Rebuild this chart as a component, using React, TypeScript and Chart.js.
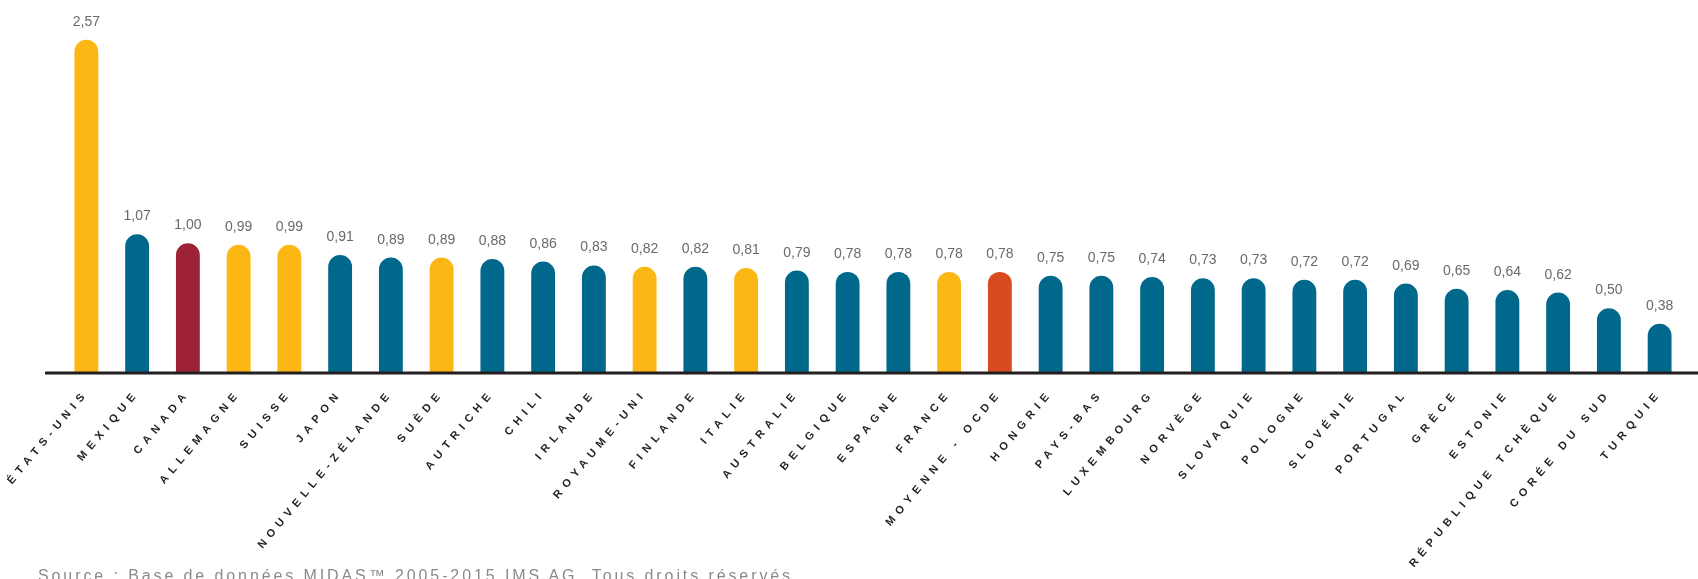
import { useEffect, useRef } from "react";
import { Chart, registerables } from "chart.js";

Chart.register(...registerables);

const countries = [
  "ÉTATS-UNIS", "MEXIQUE", "CANADA", "ALLEMAGNE", "SUISSE", "JAPON",
  "NOUVELLE-ZÉLANDE", "SUÈDE", "AUTRICHE", "CHILI", "IRLANDE", "ROYAUME-UNI",
  "FINLANDE", "ITALIE", "AUSTRALIE", "BELGIQUE", "ESPAGNE", "FRANCE",
  "MOYENNE - OCDE", "HONGRIE", "PAYS-BAS", "LUXEMBOURG", "NORVÈGE", "SLOVAQUIE",
  "POLOGNE", "SLOVÉNIE", "PORTUGAL", "GRÈCE", "ESTONIE", "RÉPUBLIQUE TCHÈQUE",
  "CORÉE DU SUD", "TURQUIE",
];

const values = [
  2.57, 1.07, 1.0, 0.99, 0.99, 0.91,
  0.89, 0.89, 0.88, 0.86, 0.83, 0.82,
  0.82, 0.81, 0.79, 0.78, 0.78, 0.78,
  0.78, 0.75, 0.75, 0.74, 0.73, 0.73,
  0.72, 0.72, 0.69, 0.65, 0.64, 0.62,
  0.5, 0.38,
];

// group of each bar: y = yellow, b = blue, r = dark red (Canada), o = OECD average
const groups = [
  "y", "b", "r", "y", "y", "b",
  "b", "y", "b", "b", "b", "y",
  "b", "y", "b", "b", "b", "y",
  "o", "b", "b", "b", "b", "b",
  "b", "b", "b", "b", "b", "b",
  "b", "b",
];

const groupColors: Record<string, string> = {
  y: "#fdb714",
  b: "#00688b",
  r: "#9e2235",
  o: "#da4a20",
};

const sourceText = "Source : Base de données MIDAS™ 2005-2015 IMS AG. Tous droits réservés";

const fmt = (v: number) => v.toFixed(2).replace(".", ",");

const valueLabelsPlugin = {
  id: "valueLabels",
  beforeDraw(chart: any) {
    chart.ctx.letterSpacing = "5.5px";
  },
  afterDatasetsDraw(chart: any) {
    const ctx = chart.ctx;
    const meta = chart.getDatasetMeta(0);
    ctx.save();
    ctx.letterSpacing = "0px";
    ctx.font = '14px "Liberation Sans", Arial, sans-serif';
    ctx.fillStyle = "#6a6a6a";
    ctx.textAlign = "center";
    ctx.textBaseline = "alphabetic";
    meta.data.forEach((bar: any, i: number) => {
      ctx.fillText(fmt(values[i]), bar.x, bar.y - 14);
    });
    ctx.strokeStyle = "#231f20";
    ctx.lineWidth = 3;
    ctx.beginPath();
    ctx.moveTo(45, chart.chartArea.bottom);
    ctx.lineTo(chart.width, chart.chartArea.bottom);
    ctx.stroke();
    ctx.restore();
  },
};

export default function App() {
  const canvasRef = useRef<HTMLCanvasElement | null>(null);

  useEffect(() => {
    if (!canvasRef.current) return;
    const chart = new Chart(canvasRef.current, {
      type: "bar",
      data: {
        labels: countries,
        datasets: [
          {
            data: values,
            backgroundColor: groups.map((g) => groupColors[g]),
            borderRadius: { topLeft: 100, topRight: 100, bottomLeft: 0, bottomRight: 0 },
            borderSkipped: "bottom",
            categoryPercentage: 1,
            barPercentage: 0.47,
          },
        ],
      },
      options: {
        responsive: false,
        animation: false,
        devicePixelRatio: 1,
        layout: { padding: { left: 61, right: 13, top: 10, bottom: 0 } },
        plugins: {
          legend: { display: false },
          tooltip: { enabled: false },
        },
        scales: {
          x: {
            grid: { display: false, drawTicks: false },
            border: { display: false },
            ticks: {
              autoSkip: false,
              minRotation: 50,
              maxRotation: 50,
              padding: 14,
              color: "#231f20",
              font: { family: '"Liberation Sans", Arial, sans-serif', weight: "bold", size: 11 },
            },
            afterFit: (scale: any) => {
              scale.height = 206;
              scale.paddingLeft = 0;
              scale.paddingRight = 0;
            },
          },
          y: {
            display: false,
            min: 0,
            max: 2.8,
          },
        },
      },
      plugins: [valueLabelsPlugin],
    });
    return () => chart.destroy();
  }, []);

  return (
    <div style={{ position: "fixed", left: 0, top: 0, width: 1698, height: 579, overflow: "hidden", background: "#fff" }}>
      <canvas ref={canvasRef} width={1698} height={579} style={{ display: "block", width: 1698, height: 579 }} />
      <div
        style={{
          position: "absolute",
          left: 38,
          top: 567,
          fontFamily: '"Liberation Sans", Arial, sans-serif',
          fontSize: 16,
          letterSpacing: "2.9px",
          color: "#8a8a8a",
          whiteSpace: "nowrap",
        }}
      >
        {sourceText}
      </div>
    </div>
  );
}
